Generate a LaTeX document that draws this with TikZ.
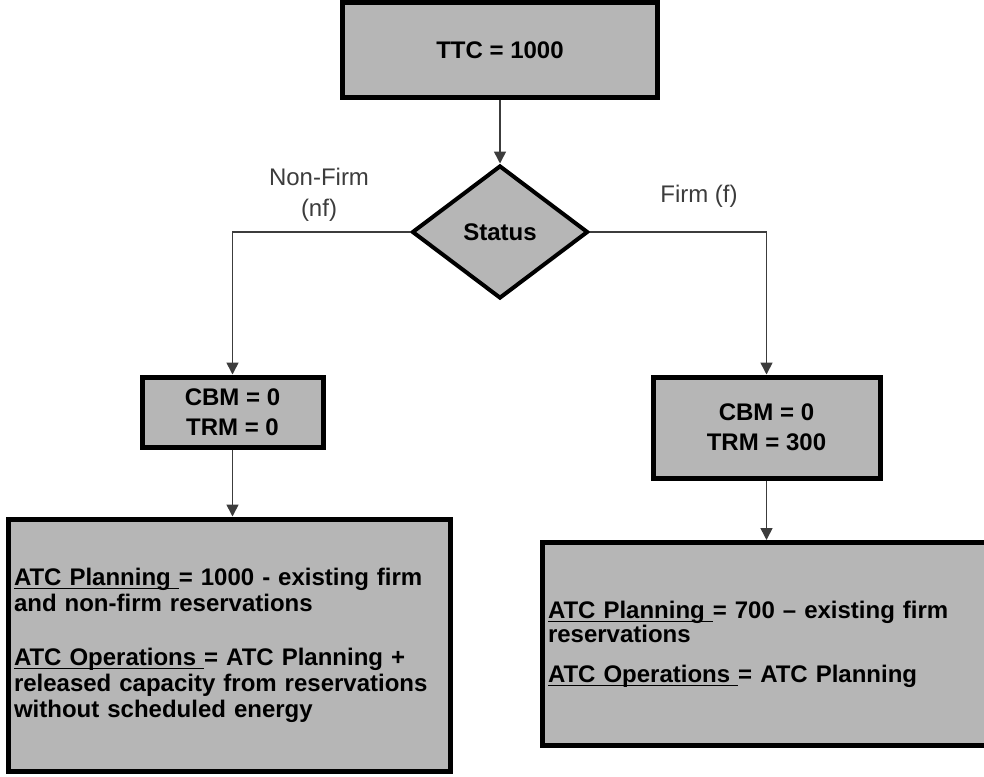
\documentclass[tikz,border=0pt]{standalone}
\usepackage{fontspec}
\setmainfont{Liberation Sans}
\usetikzlibrary{shapes.geometric, arrows.meta}

\definecolor{boxgray}{RGB}{182,182,182}
\definecolor{linegray}{RGB}{60,60,60}

% underline just below the baseline (descenders ignored)
\newcommand{\ulined}[1]{\underline{\raisebox{0pt}[\height][0pt]{#1}}}

\tikzset{
    box/.style={draw=black, line width=2.5pt, fill=boxgray, inner sep=3pt,
        font=\fontsize{12}{15}\selectfont\bfseries},
    bigbox/.style={box, align=left, font=\fontsize{12}{13}\selectfont\bfseries},
    decision/.style={diamond, draw=black, line width=2pt, fill=boxgray, inner sep=0pt,
        minimum width=88pt, minimum height=66.5pt, font=\fontsize{12}{14}\selectfont\bfseries},
    lbl/.style={align=center, text=linegray, font=\fontsize{12}{15.5}\selectfont},
    conn/.style={draw=linegray, line width=0.8pt, -{Triangle[length=6pt,width=6pt]}}
}

\begin{document}
\begin{tikzpicture}[x=0.5pt, y=-0.5pt]
    \useasboundingbox (0,0) rectangle (984,776);

    % Top box and the status decision
    \node[box, minimum width=157.5pt, minimum height=47.5pt] (ttc) at (500,50) {TTC = 1000};
    \node[decision] (status) at (500,232) {Status};

    % Branch labels
    \node[lbl] (nonfirm) at (319,195) {Non-Firm\\(nf)};
    \node[lbl] (firm) at (699,196) {Firm (f)};

    % Margin boxes
    \node[box, align=center, minimum width=90.5pt, minimum height=35pt] (cbml) at (232.5,412) {CBM = 0\\TRM = 0};
    \node[box, align=center, minimum width=113.5pt, minimum height=50.5pt] (cbmr) at (766.5,427.5) {CBM = 0\\TRM = 300};

    % ATC boxes
    \node[bigbox, text width=215pt, minimum height=126pt] (atcl) at (229,645)
        {\ulined{ATC Planning\ }= 1000 - existing firm\\
         and non-firm reservations\\[14pt]
         \ulined{ATC Operations\ }= ATC Planning +\\
         released capacity from reservations\\
         without scheduled energy};
    \node[bigbox, text width=219pt, minimum height=101.5pt,
        font=\fontsize{12}{12}\selectfont\bfseries] (atcr) at (767,644)
        {\ulined{ATC Planning\ }= 700 -- existing firm\\
         reservations\\[8pt]
         \ulined{ATC Operations\ }= ATC Planning};

    % Connectors
    \draw[conn] (ttc.south -| status.north) -- (status.north);
    \draw[conn] (status.west) -| (cbml.north);
    \draw[conn] (status.east) -| (cbmr.north);
    \draw[conn] (cbml.south) -- (cbml.south |- atcl.north);
    \draw[conn] (cbmr.south) -- (cbmr.south |- atcr.north);
\end{tikzpicture}
\end{document}
